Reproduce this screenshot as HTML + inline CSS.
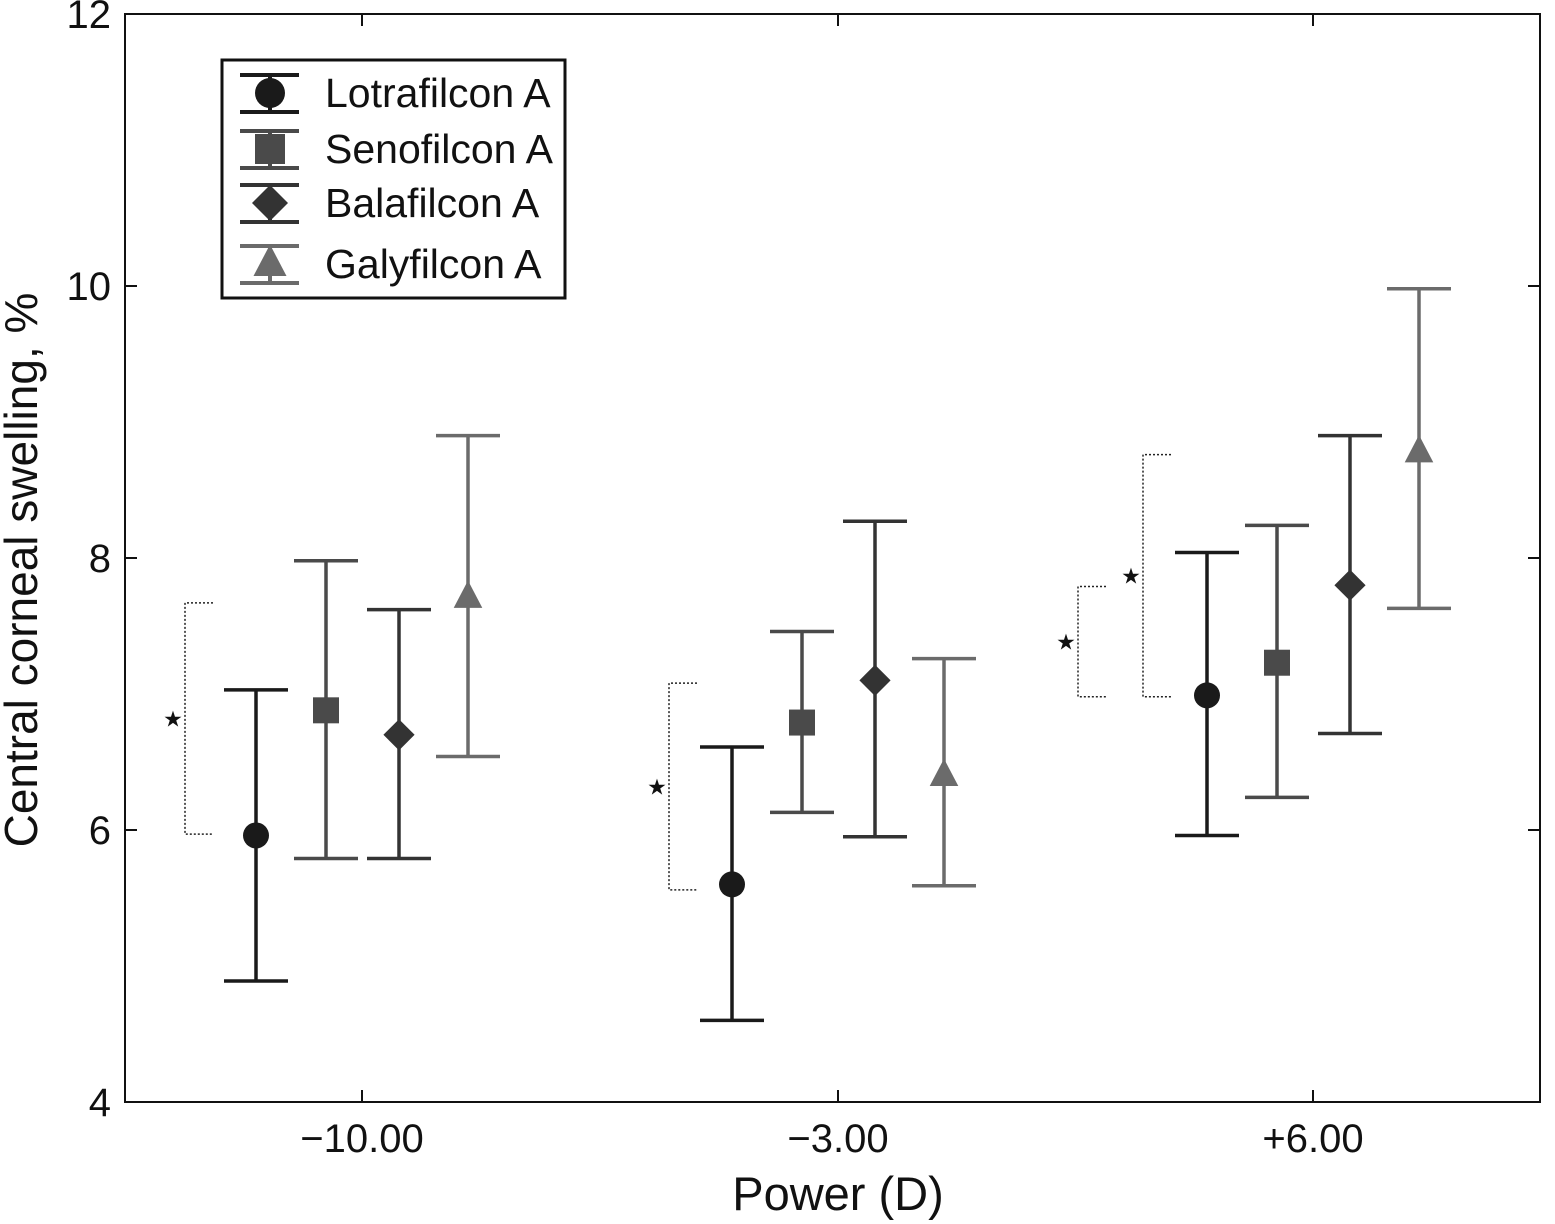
<!DOCTYPE html>
<html><head><meta charset="utf-8"><style>
body{margin:0;background:#fff;}
svg{display:block;font-family:"Liberation Sans",sans-serif;}
</style></head><body>
<svg id="chart" width="1555" height="1224" viewBox="0 0 1555 1224">
<rect x="125" y="14" width="1415" height="1088" fill="none" stroke="#111" stroke-width="2"/>
<g id="axes"></g>
<g id="marks"></g>
<text x="37" y="570" font-size="46" text-anchor="middle" transform="rotate(-90 37 570)" fill="#111">Central corneal swelling, %</text>
<text x="838" y="1210" font-size="47" text-anchor="middle" fill="#111">Power (D)</text>
<g>
<rect x="222" y="60" width="343" height="238" fill="#fff" stroke="#111" stroke-width="3"/>
<g id="legend"></g>
</g>
</svg>
<script>
const categories = ["\u221210.00", "\u22123.00", "+6.00"];
const seriesNames = ["Lotrafilcon A", "Senofilcon A", "Balafilcon A", "Galyfilcon A"];
const lotraMean = [5.96, 5.60, 6.99];
const lotraUpper = [7.03, 6.61, 8.04];
const lotraLower = [4.89, 4.60, 5.96];
const senoMean = [6.88, 6.79, 7.23];
const senoUpper = [7.98, 7.46, 8.24];
const senoLower = [5.79, 6.13, 6.24];
const balaMean = [6.70, 7.10, 7.80];
const balaUpper = [7.62, 8.27, 8.90];
const balaLower = [5.79, 5.95, 6.71];
const galyMean = [7.71, 6.40, 8.78];
const galyUpper = [8.90, 7.26, 9.98];
const galyLower = [6.54, 5.59, 7.63];
const yTicks = [4, 6, 8, 10, 12];
// significance brackets: [category, low, high, offset-from-category]
const brackets = [[0, 5.97, 7.67, -1.77], [1, 5.56, 7.08, -1.69], [2, 6.98, 7.79, -2.35], [2, 6.98, 8.76, -1.70]];

const NS = "http://www.w3.org/2000/svg";
const y = v => 14 + (12 - v) * 136;
const catX = [362, 838, 1313];
const xc = c => catX[c];
const offsets = [-106, -36, 37, 106];
const colors = ["#1a1a1a", "#4a4a4a", "#333333", "#6b6b6b"];
const shapes = ["circle", "square", "diamond", "triangle"];
const data = [[lotraMean, lotraUpper, lotraLower], [senoMean, senoUpper, senoLower], [balaMean, balaUpper, balaLower], [galyMean, galyUpper, galyLower]];

function el(tag, attrs, parent) {
  const e = document.createElementNS(NS, tag);
  for (const k in attrs) e.setAttribute(k, attrs[k]);
  parent.appendChild(e);
  return e;
}
const axes = document.getElementById("axes");
yTicks.forEach(t => {
  const l1 = el("line", {x1: 125, x2: 137, y1: y(t), y2: y(t), stroke: "#111", "stroke-width": 2}, axes);
  
  
  const l2 = el("line", {x1: 1528, x2: 1540, y1: y(t), y2: y(t), stroke: "#111", "stroke-width": 2}, axes);
  
  
  const tx = el("text", {x: 111, y: y(t) + 14, "font-size": 40, "text-anchor": "end", fill: "#111"}, axes);
  tx.textContent = t;
  
  
});
categories.forEach((c, i) => {
  const l1 = el("line", {x1: xc(i), x2: xc(i), y1: 1090, y2: 1102, stroke: "#111", "stroke-width": 2}, axes);
  
  
  const l2 = el("line", {x1: xc(i), x2: xc(i), y1: 14, y2: 26, stroke: "#111", "stroke-width": 2}, axes);
  
  
  const tx = el("text", {x: xc(i), y: 1152, "font-size": 40, "text-anchor": "middle", fill: "#111"}, axes);
  tx.textContent = c;
  
  
});

function marker(g, shape, cx, cy, r, color) {
  let m;
  if (shape === "circle") m = el("circle", {cx: cx, cy: cy, r: r, fill: color}, g);
  else if (shape === "square") m = el("rect", {x: cx - r, y: cy - r, width: 2 * r, height: 2 * r, fill: color}, g);
  else if (shape === "diamond") m = el("polygon", {points: `${cx},${cy - r * 1.2} ${cx + r * 1.2},${cy} ${cx},${cy + r * 1.2} ${cx - r * 1.2},${cy}`, fill: color}, g);
  else m = el("polygon", {points: `${cx},${cy - r * 1.3} ${cx + r * 1.1},${cy + r * 0.8} ${cx - r * 1.1},${cy + r * 0.8}`, fill: color}, g);
  return m;
}

const marks = document.getElementById("marks");
data.forEach((s, si) => {
  s[0].forEach((m, ci) => {
    const cx = xc(ci) + offsets[si];
    const g = el("g", {}, marks);
    
    
    const col = colors[si];
    el("line", {x1: cx, x2: cx, y1: y(s[1][ci]), y2: y(s[2][ci]), stroke: col, "stroke-width": 3.5}, g);
    el("line", {x1: cx - 32, x2: cx + 32, y1: y(s[1][ci]), y2: y(s[1][ci]), stroke: col, "stroke-width": 3.5}, g);
    el("line", {x1: cx - 32, x2: cx + 32, y1: y(s[2][ci]), y2: y(s[2][ci]), stroke: col, "stroke-width": 3.5}, g);
    const mk = marker(g, shapes[si], cx, y(m), 13, col);
    
    
  });
});

brackets.forEach(b => {
  const bx = xc(b[0]) + b[3] * 100;
  const g = el("g", {}, marks);
  
  
  el("path", {d: `M${bx + 28},${y(b[2])} H${bx} V${y(b[1])} H${bx + 28}`, fill: "none", stroke: "#222", "stroke-width": 1.5, "stroke-dasharray": "2 2"}, g);
  const st = el("text", {x: bx - 12, y: (y(b[1]) + y(b[2])) / 2 + 8, "font-size": 22, "text-anchor": "middle", fill: "#111"}, g);
  st.textContent = "\u2605";
});

const leg = document.getElementById("legend");
const legY = [93, 149, 203, 264];
seriesNames.forEach((n, i) => {
  const g = el("g", {}, leg);
  
  
  const cy = legY[i];
  el("line", {x1: 240, x2: 299, y1: cy - 18, y2: cy - 18, stroke: colors[i], "stroke-width": 4}, g);
  el("line", {x1: 240, x2: 299, y1: cy + 19, y2: cy + 19, stroke: colors[i], "stroke-width": 4}, g);
  el("line", {x1: 270, x2: 270, y1: cy - 18, y2: cy + 19, stroke: colors[i], "stroke-width": 4}, g);
  marker(g, shapes[i], 270, cy, 15, colors[i]);
  const t = el("text", {x: 325, y: cy + 14, "font-size": 41, fill: "#111"}, g);
  t.textContent = n;
});
</script>
</body></html>
